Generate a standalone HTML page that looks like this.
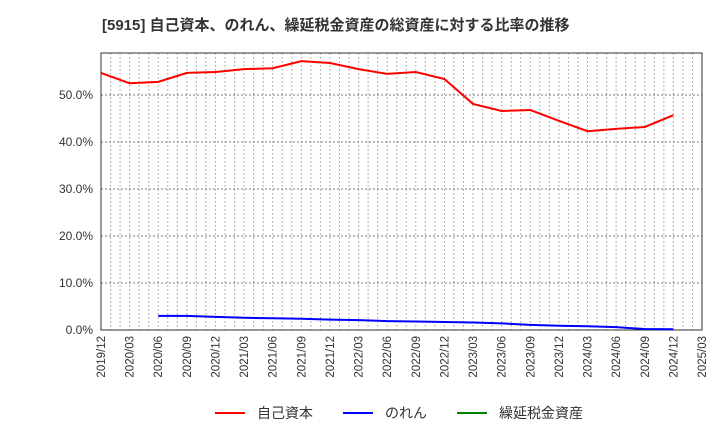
<!DOCTYPE html>
<html><head><meta charset="utf-8"><style>
body{margin:0;background:#fff;font-family:"Liberation Sans","Noto Sans CJK JP",sans-serif}
</style></head><body>
<svg id="c" width="720" height="440" xmlns="http://www.w3.org/2000/svg">
<text x="102" y="30" font-size="15" font-weight="bold" fill="#333" font-family="Liberation Sans,Noto Sans CJK JP,sans-serif">[5915]  自己資本、のれん、繰延税金資産の総資産に対する比率の推移</text>
<g id="grid"></g><g id="axes"></g><g id="series"></g>
<g font-size="14" fill="#333">
<line x1="215" y1="413" x2="245" y2="413" stroke="#f00" stroke-width="2"/><text x="257" y="418">自己資本</text>
<line x1="343" y1="413" x2="373" y2="413" stroke="#00f" stroke-width="2"/><text x="385" y="418">のれん</text>
<line x1="457" y1="413" x2="487" y2="413" stroke="#008000" stroke-width="2"/><text x="499" y="418">繰延税金資産</text>
</g>
</svg>
<script>
const categories=["2019/12","2020/03","2020/06","2020/09","2020/12","2021/03","2021/06","2021/09","2021/12","2022/03","2022/06","2022/09","2022/12","2023/03","2023/06","2023/09","2023/12","2024/03","2024/06","2024/09","2024/12","2025/03"];
const equity=[54.7,52.5,52.8,54.7,54.9,55.5,55.7,57.2,56.8,55.5,54.5,54.9,53.4,48.1,46.6,46.8,44.5,42.3,42.8,43.2,45.7,null];
const goodwill=[null,null,3.0,3.0,2.8,2.6,2.5,2.4,2.2,2.1,1.9,1.8,1.7,1.6,1.4,1.1,0.9,0.8,0.6,0.2,0.15,null];
const yTicks=[0,10,20,30,40,50];
const L=101,R=702,T=53,B=330;
const NS="http://www.w3.org/2000/svg";
const xs=i=>L+(R-L)*i/(categories.length-1);
const ys=v=>B-(B-95)*v/50;
function mk(tag,attrs,parent){const e=document.createElementNS(NS,tag);for(const k in attrs)e.setAttribute(k,attrs[k]);document.getElementById(parent).appendChild(e);return e;}
const n=(categories.length-1)*3;
for(let m=1;m<n;m++){const x=L+(R-L)*m/n;
const g=mk('line',{x1:x,x2:x,y1:T,y2:B,stroke:'#999','stroke-dasharray':'1.5,2.5','stroke-width':1},'grid');

}
yTicks.forEach(v=>{const y=ys(v);
if(v>0){const g=mk('line',{x1:L,x2:R,y1:y,y2:y,stroke:'#777','stroke-dasharray':'2,2','stroke-width':1},'grid');

}
const t=mk('text',{x:L-8,y:y+4,'text-anchor':'end','font-size':12,fill:'#333'},'axes');t.textContent=v.toFixed(1)+'%';

});
const fr=mk('rect',{x:L,y:T,width:R-L,height:B-T,fill:'none',stroke:'#333','stroke-width':1},'axes');


categories.forEach((c,i)=>{const x=xs(i);
const t=mk('text',{x:x+4,y:B+6,'text-anchor':'end','font-size':11.5,fill:'#333',transform:`rotate(-90 ${x+4} ${B+6})`},'axes');t.textContent=c;

});
function line(arr,color,name){let d='';let pen=false;arr.forEach((v,i)=>{if(v==null){pen=false;return;}d+=(pen?'L':'M')+xs(i)+','+ys(v);pen=true;});
const p=mk('path',{d:d,fill:'none',stroke:color,'stroke-width':2},'series');

}
line(equity,'#f00','equity-ratio-line');
line(goodwill,'#00f','goodwill-ratio-line');
</script>
</body></html>
